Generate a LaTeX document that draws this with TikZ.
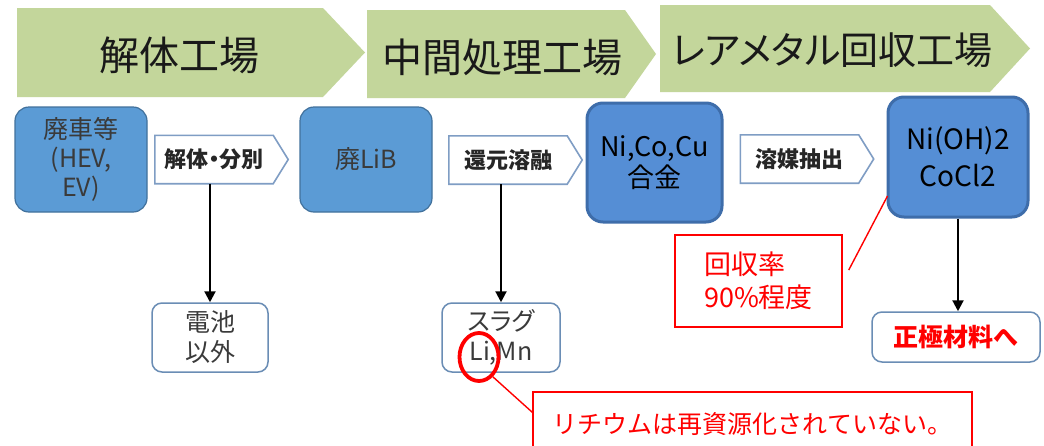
\documentclass[tikz,border=0pt]{standalone}
\usepackage{fontspec}
\setmainfont{Noto Sans CJK JP}
\newfontfamily\jpp[RawFeature=+palt]{Noto Sans CJK JP}
\usetikzlibrary{calc,arrows.meta,shapes.geometric,backgrounds}
\definecolor{bannerg}{HTML}{C3D69B}
\definecolor{boxfill}{HTML}{5B9BD5}
\definecolor{boxline}{HTML}{41719C}
\definecolor{boxfillb}{HTML}{558ED5}
\definecolor{boxlineb}{HTML}{3E6DAA}
\definecolor{lblline}{HTML}{7F9DC4}
\definecolor{wline}{HTML}{6A8DB5}
\definecolor{txtgray}{HTML}{3A3A3A}
\definecolor{callred}{HTML}{FF0000}
\begin{document}
\begin{tikzpicture}[x=1pt,y=-1pt,
  bannertext/.style={font=\fontsize{40}{44}\selectfont, text=black!90, inner sep=0},
  bluebox/.style={draw=boxline, fill=boxfill, line width=1.2pt, rounded corners=14pt,
    minimum width=132pt, minimum height=105pt, align=center, inner sep=0,
    font=\fontsize{25}{29}\selectfont, text=txtgray},
  blueboxb/.style={draw=boxlineb, fill=boxfillb, line width=3pt, rounded corners=16pt,
    align=center, inner sep=0, font=\fontsize{27}{31}\selectfont, text=black},
  lbl/.style={minimum width=118pt, minimum height=48pt, inner sep=0,
    font=\bfseries\fontsize{22}{26}\selectfont, text=black!85},
  lblshape/.style={draw=lblline, line width=1.6pt, fill=white},
  wbox/.style={draw=wline, line width=1.5pt, fill=white, rounded corners=10pt,
    align=center, inner sep=0, font=\fontsize{25}{30}\selectfont, text=txtgray},
  varrow/.style={line width=2.2pt, -{Triangle[width=11pt,length=11pt]}},
  redbox/.style={draw=callred, line width=1.5pt, fill=white, text=callred, inner sep=0},
  leader/.style={draw=callred, line width=1.4pt}
]
\clip (0,0) rectangle (1044,445);

% banners
\fill[bannerg] (17,8) -- (323,8) -- (365,52.5) -- (323,97) -- (17,97) -- cycle;
\node[bannertext] (t1) at (179,55) {解体工場};
\fill[bannerg] (367,10) -- (625,10) -- (656,54) -- (625,98) -- (367,98) -- cycle;
\node[bannertext] (t2) at (502,57) {中間処理工場};
\fill[bannerg] (660,5) -- (990,5) -- (1030,48.5) -- (990,92) -- (660,92) -- cycle;
\node[bannertext, font=\jpp\fontsize{38}{42}\selectfont] (t3) at (832,50) {レアメタル回収工場};

% blue boxes
\node[bluebox] (b1) at (81,159.5) {廃車等\\(HEV,\\EV)};
\node[bluebox] (b2) at (366,159.5) {廃LiB};
\node[blueboxb, minimum width=135pt, minimum height=119pt] (b3) at (654.5,162.5) {Ni,Co,Cu\\合金};
\node[blueboxb, minimum width=140pt, minimum height=120pt, font=\fontsize{28}{37}\selectfont] (b4) at (958,157) {Ni(OH)2\\CoCl2};

% process labels
\node[lbl, font=\jpp\bfseries\fontsize{22}{26}\selectfont] (a1) at (214,159.5) {解体・分別};
\node[lbl] (a2) at (508,160) {還元溶融};
\node[lbl] (a3) at (799.5,159) {溶媒抽出};
\begin{scope}[on background layer]
\fill[white] (0,0) rectangle (1044,445);
\foreach \n in {a1,a2,a3}{
  \draw[lblshape] (\n.north west) -- (\n.north east) -- ($(\n.east)+(15,0)$) -- (\n.south east) -- (\n.south west) -- cycle;
}
\end{scope}

% output boxes
\node[wbox, minimum width=116pt, minimum height=69pt] (d1) at (210,337.5) {電池\\以外};
\node[wbox, minimum width=118pt, minimum height=69pt] (d2) at (501,337.5) {{\jpp スラグ}\\Li,Mn};
\node[wbox, minimum width=168pt, minimum height=50pt, text=callred,
  font=\bfseries\fontsize{25}{30}\selectfont] (f1) at (956,337) {正極材料へ};

% vertical arrows
\draw[varrow] (a1.south -| d1.north) -- (d1.north);
\draw[varrow] (a2.south -| d2.north) -- (d2.north);
\draw[varrow] (b4.south) -- (b4.south |- f1.north);

% red annotations
\node[draw=callred, line width=3.8pt, ellipse, minimum width=39pt, minimum height=48pt, inner sep=0] (el) at (479,357) {};
\node[redbox, minimum width=439pt, minimum height=70pt, font=\fontsize{25}{30}\selectfont] (c1) at (752.5,427) {\raisebox{9pt}{リチウムは再資源化されていない。}};
\draw[leader] (el.-55) -- ($(c1.north west)+(0,21)$);

\node[redbox, minimum width=167pt, minimum height=92pt, align=left, font=\fontsize{27}{33}\selectfont] (c2) at (758.5,281) {回収率\\90\%程度};
\draw[leader] ($(c2.east)+(6,-11)$) -- ($(b4.west)+(1,39)$);
\end{tikzpicture}
\end{document}
